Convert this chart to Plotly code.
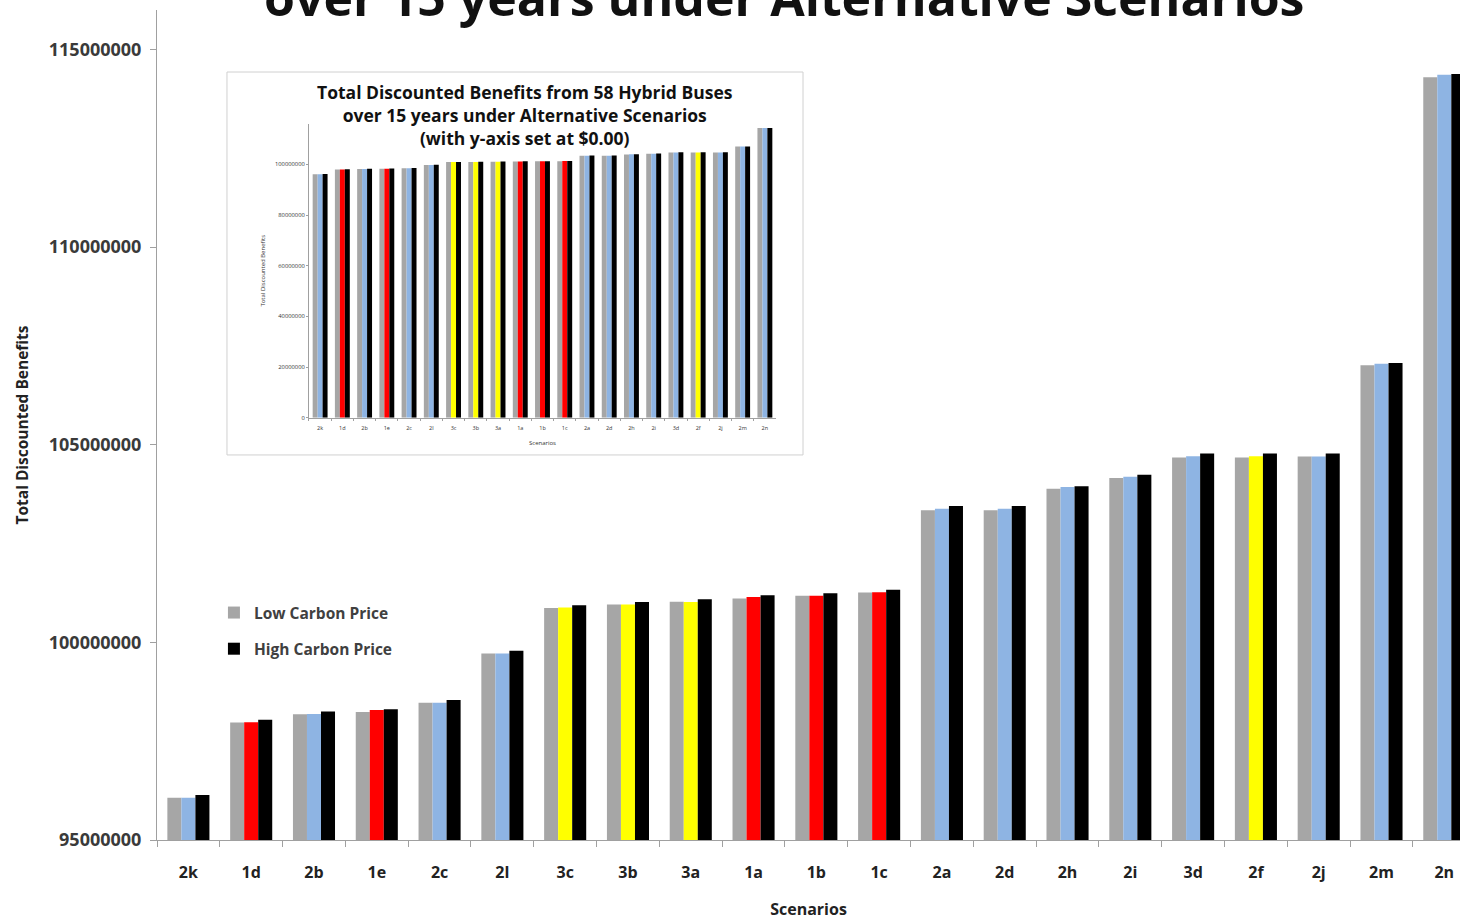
import plotly.graph_objects as go

# Scenario results (US dollars), sorted by benefit
scenarios = ["2k", "1d", "2b", "1e", "2c", "2l", "3c", "3b", "3a", "1a", "1b",
             "1c", "2a", "2d", "2h", "2i", "3d", "2f", "2j", "2m", "2n"]

low_carbon = [96070000, 97970000, 98180000, 98240000, 98470000, 99720000,
              100870000, 100960000, 101030000, 101110000, 101180000, 101260000,
              103340000, 103340000, 103890000, 104160000, 104680000, 104680000,
              104700000, 107010000, 114300000]

mid_carbon = [96070000, 97980000, 98190000, 98290000, 98470000, 99720000,
              100880000, 100960000, 101020000, 101150000, 101180000, 101270000,
              103380000, 103380000, 103930000, 104190000, 104710000, 104710000,
              104700000, 107050000, 114360000]

high_carbon = [96140000, 98040000, 98250000, 98310000, 98540000, 99790000,
               100940000, 101020000, 101090000, 101190000, 101240000, 101330000,
               103450000, 103450000, 103950000, 104240000, 104780000, 104780000,
               104780000, 107070000, 114380000]

# colour of the middle bar for each scenario
mid_colors = ["#8EB4E3", "#FF0000", "#8EB4E3", "#FF0000", "#8EB4E3", "#8EB4E3",
              "#FFFF00", "#FFFF00", "#FFFF00", "#FF0000", "#FF0000", "#FF0000",
              "#8EB4E3", "#8EB4E3", "#8EB4E3", "#8EB4E3", "#8EB4E3", "#FFFF00",
              "#8EB4E3", "#8EB4E3", "#8EB4E3"]

main_ticks = [95000000, 100000000, 105000000, 110000000, 115000000]
inset_ticks = [0, 20000000, 40000000, 60000000, 80000000, 100000000]

GRAY = "#A6A6A6"
BLACK = "#000000"
FONT = "Open Sans"

fig = go.Figure()

# main chart (truncated y-axis)
fig.add_trace(go.Bar(x=scenarios, y=low_carbon, name="Low Carbon Price",
                     marker=dict(color=GRAY, line=dict(width=0)),
                     legendgroup="low", xaxis="x", yaxis="y"))
fig.add_trace(go.Bar(x=scenarios, y=mid_carbon, name="Mid Carbon Price",
                     marker=dict(color=mid_colors, line=dict(width=0)),
                     showlegend=False, xaxis="x", yaxis="y"))
fig.add_trace(go.Bar(x=scenarios, y=high_carbon, name="High Carbon Price",
                     marker=dict(color=BLACK, line=dict(width=0)),
                     legendgroup="high", xaxis="x", yaxis="y"))

# inset chart (y-axis from zero)
fig.add_trace(go.Bar(x=scenarios, y=low_carbon, marker=dict(color=GRAY, line=dict(width=0)),
                     showlegend=False, xaxis="x2", yaxis="y2"))
fig.add_trace(go.Bar(x=scenarios, y=mid_carbon, marker=dict(color=mid_colors, line=dict(width=0)),
                     showlegend=False, xaxis="x2", yaxis="y2"))
fig.add_trace(go.Bar(x=scenarios, y=high_carbon, marker=dict(color=BLACK, line=dict(width=0)),
                     showlegend=False, xaxis="x2", yaxis="y2"))

fig.update_layout(
    width=1460, height=920,
    margin=dict(l=157, r=0, t=10, b=80),
    paper_bgcolor="white", plot_bgcolor="rgba(0,0,0,0)",
    barmode="group", bargap=0.33, bargroupgap=0,
    font=dict(family=FONT, color="#333333"),
    xaxis=dict(
        domain=[0, 1], range=[-0.5, 20.25], type="category",
        showline=True, linecolor="#A0A0A0", linewidth=1,
        ticks="outside", tickson="boundaries", ticklen=6, tickcolor="#A0A0A0",
        tickfont=dict(size=16, color="#222222", weight="bold"),
        ticklabelstandoff=18,
        title=dict(text="Scenarios", font=dict(size=16, color="#222222", weight="bold"),
                   standoff=26),
        showgrid=False, zeroline=False, fixedrange=True,
    ),
    yaxis=dict(
        domain=[0, 1], range=[95000000, 116000000],
        tickvals=main_ticks, tickformat="d",
        showline=True, linecolor="#A0A0A0", linewidth=1,
        ticks="outside", ticklen=6, tickcolor="#A0A0A0",
        tickfont=dict(size=18, color="#3A3A3A", weight="bold"),
        ticklabelstandoff=5,
        title=dict(text="Total Discounted Benefits",
                   font=dict(size=15.5, color="#222222", weight="bold"), standoff=16),
        showgrid=False, zeroline=False,
    ),
    xaxis2=dict(
        domain=[0.11665, 0.47506], range=[-0.5, 20.5], type="category",
        anchor="y2",
        showline=True, linecolor="#A0A0A0", linewidth=1,
        ticks="outside", tickson="boundaries", ticklen=2, tickcolor="#A0A0A0",
        tickfont=dict(size=5.5, color="#333333"),
        ticklabelstandoff=5,
        title=dict(text="Scenarios", font=dict(size=6, color="#333333"), standoff=9),
        showgrid=False, zeroline=False,
    ),
    yaxis2=dict(
        domain=[0.5088, 0.8629], range=[0, 116000000], anchor="x2",
        tickvals=inset_ticks, tickformat="d",
        showline=True, linecolor="#A0A0A0", linewidth=1,
        ticks="outside", ticklen=2, tickcolor="#A0A0A0",
        tickfont=dict(size=5.8, color="#333333"),
        title=dict(text="Total Discounted Benefits", font=dict(size=6, color="#333333"),
                   standoff=8),
        showgrid=False, zeroline=False,
    ),
    legend=dict(
        x=0.0437, y=0.294, xanchor="left", yanchor="top",
        bgcolor="rgba(0,0,0,0)", borderwidth=0,
        font=dict(size=15.5, color="#404040", weight="bold"),
        traceorder="grouped", tracegroupgap=13,
    ),
    shapes=[
        # frame of the inset chart
        dict(type="rect", xref="paper", yref="paper",
             x0=0.0537, x1=0.4958, y0=0.4639, y1=0.9253,
             fillcolor="white", line=dict(color="#D0D0D0", width=1), layer="below"),
    ],
    annotations=[
        dict(text="over 15 years under Alternative Scenarios",
             xref="paper", yref="paper", x=0.4812, y=0.972,
             xanchor="center", yanchor="bottom", showarrow=False,
             font=dict(size=50, color="#111111", weight="bold")),
        dict(text="Total Discounted Benefits from 58 Hybrid Buses<br>"
                  "over 15 years under Alternative Scenarios<br>"
                  "(with y-axis set at $0.00)",
             xref="paper", yref="paper", x=0.2824, y=0.8735,
             xanchor="center", yanchor="middle", showarrow=False,
             font=dict(size=17.5, color="#111111", weight="bold")),
    ],
)

fig.write_html("out.html")
